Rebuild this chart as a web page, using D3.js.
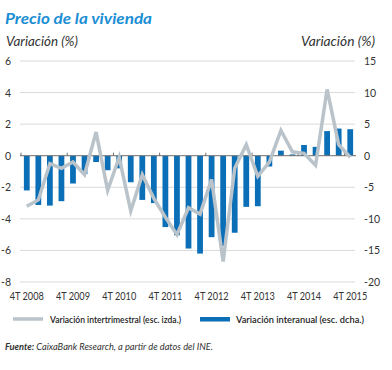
<!DOCTYPE html>
<html><head><meta charset="utf-8">
<script src="https://cdn.jsdelivr.net/npm/d3@7"></script>
<style>
html,body{margin:0;padding:0;background:#fff;}
svg{display:block;font-family:Lato,"Open Sans",sans-serif;}
</style></head>
<body><svg id="c" width="392" height="370"></svg>
<script>
const categories = ["4T 2008","1T 2009","2T 2009","3T 2009","4T 2009","1T 2010","2T 2010","3T 2010","4T 2010","1T 2011","2T 2011","3T 2011","4T 2011","1T 2012","2T 2012","3T 2012","4T 2012","1T 2013","2T 2013","3T 2013","4T 2013","1T 2014","2T 2014","3T 2014","4T 2014","1T 2015","2T 2015","3T 2015","4T 2015"];
// Variación intertrimestral (esc. izda.)
const qoq = [-3.2,-2.8,-0.5,-0.8,-0.4,-1.2,1.5,-2.2,-0.1,-3.5,-1.2,-2.7,-3.9,-5.0,-3.3,-3.7,-1.5,-6.7,-0.8,0.7,-1.3,-0.4,1.6,0.25,0.15,-0.6,4.2,0.7,-0.1];
// Variación interanual (esc. dcha.)
const yoy = [-5.5,-7.8,-7.9,-7.2,-4.4,-2.9,-1.0,-2.3,-2.0,-4.2,-7.0,-7.5,-11.3,-12.6,-14.7,-15.5,-12.9,-14.3,-12.2,-8.1,-8.0,-1.7,0.8,0.2,1.7,1.4,3.9,4.3,4.2];
const xTickLabels = ["4T 2008","4T 2009","4T 2010","4T 2011","4T 2012","4T 2013","4T 2014","4T 2015"];
const leftTicks = [6,4,2,0,-2,-4,-6,-8];
const rightTicks = [15,10,5,0,-5,-10,-15,-20];

const svg = d3.select("#c");
const BLUE = "#0b6fb8", GRAY = "#b9c3c9", TXT = "#333";

const x = d3.scaleBand().domain(categories).range([21, 356]).padding(0);
const yL = d3.scaleLinear().domain([-8, 6]).range([282, 61]);
const yR = d3.scaleLinear().domain([-20, 15]).range([282, 61]);
const cx = c => x(c) + x.bandwidth() / 2;

// title
svg.append("text").attr("x", 5).attr("y", 24).attr("fill", "#1b8ed4")
  .attr("font-size", 16).attr("font-weight", 700).attr("font-style", "italic")
  .attr("textLength", 147).attr("lengthAdjust", "spacingAndGlyphs")
  .text("Precio de la vivienda");
svg.append("text").attr("x", 6).attr("y", 46).attr("fill", TXT)
  .attr("font-size", 12.5).attr("font-style", "italic")
  .attr("textLength", 72).attr("lengthAdjust", "spacingAndGlyphs").text("Variación (%)");
svg.append("text").attr("x", 375).attr("y", 46).attr("fill", TXT).attr("text-anchor", "end")
  .attr("font-size", 12.5).attr("font-style", "italic")
  .attr("textLength", 74).attr("lengthAdjust", "spacingAndGlyphs").text("Variación (%)");

// grid
svg.append("g").selectAll("line").data(leftTicks.filter(d => d !== 0)).join("line")
  .attr("x1", 20).attr("x2", 355).attr("y1", d => yL(d)).attr("y2", d => yL(d))
  .attr("stroke", "#dadada").attr("stroke-width", 1);

// left axis labels
svg.append("g").selectAll("text").data(leftTicks).join("text")
  .attr("x", 11).attr("y", d => yL(d) + 4).attr("text-anchor", "end")
  .attr("font-size", 10.5).attr("fill", TXT).text(d => d);
// right axis labels
svg.append("g").selectAll("text").data(rightTicks).join("text")
  .attr("x", 364).attr("y", d => yR(d) + 4).attr("text-anchor", "start")
  .attr("font-size", 10.5).attr("fill", TXT).text(d => d);

// bars
const bw = x.bandwidth() * 0.5;
svg.append("g").selectAll("rect").data(categories).join("rect")
  .attr("x", c => cx(c) - bw / 2).attr("width", bw)
  .attr("y", (c, i) => Math.min(yR(yoy[i]), yR(0)))
  .attr("height", (c, i) => Math.abs(yR(yoy[i]) - yR(0)))
  .attr("fill", BLUE);

// zero axis with ticks
svg.append("line").attr("x1", 20).attr("x2", 356).attr("y1", yL(0)).attr("y2", yL(0))
  .attr("stroke", "#6d6d6d").attr("stroke-width", 1);
svg.append("g").selectAll("line").data(categories.filter((c, i) => i % 4 === 0)).join("line")
  .attr("x1", c => x(c)).attr("x2", c => x(c))
  .attr("y1", yL(0)).attr("y2", yL(0) - 3)
  .attr("stroke", "#6d6d6d").attr("stroke-width", 1);

// line
const line = d3.line().x((d, i) => cx(categories[i])).y(d => yL(d));
svg.append("path").datum(qoq).attr("d", line).attr("fill", "none")
  .attr("stroke", GRAY).attr("stroke-width", 3.5).attr("stroke-linejoin", "miter");

// x labels
svg.append("g").selectAll("text").data(xTickLabels).join("text")
  .attr("x", d => cx(d)).attr("y", 300).attr("text-anchor", "middle")
  .attr("font-size", 10.5).attr("fill", TXT)
  .attr("textLength", 34).attr("lengthAdjust", "spacingAndGlyphs").text(d => d);

// legend
svg.append("line").attr("x1", 13).attr("x2", 43).attr("y1", 319).attr("y2", 319)
  .attr("stroke", GRAY).attr("stroke-width", 3.5);
svg.append("text").attr("x", 50).attr("y", 322.5).attr("font-size", 9.5).attr("fill", "#222")
  .attr("font-weight", 600)
  .attr("textLength", 131).attr("lengthAdjust", "spacingAndGlyphs")
  .text("Variación intertrimestral (esc. izda.)");
svg.append("rect").attr("x", 200).attr("y", 317).attr("width", 30).attr("height", 4.5).attr("fill", BLUE);
svg.append("text").attr("x", 236).attr("y", 322.5).attr("font-size", 9.5).attr("fill", "#222")
  .attr("font-weight", 600)
  .attr("textLength", 128).attr("lengthAdjust", "spacingAndGlyphs")
  .text("Variación interanual (esc. dcha.)");

// source
const src = svg.append("text").attr("x", 5).attr("y", 350).attr("font-size", 9.5).attr("fill", TXT)
  .attr("font-style", "italic").attr("textLength", 208).attr("lengthAdjust", "spacingAndGlyphs");
src.append("tspan").attr("font-weight", 700).text("Fuente: ");
src.append("tspan").text("CaixaBank Research, a partir de datos del INE.");
</script></body></html>
